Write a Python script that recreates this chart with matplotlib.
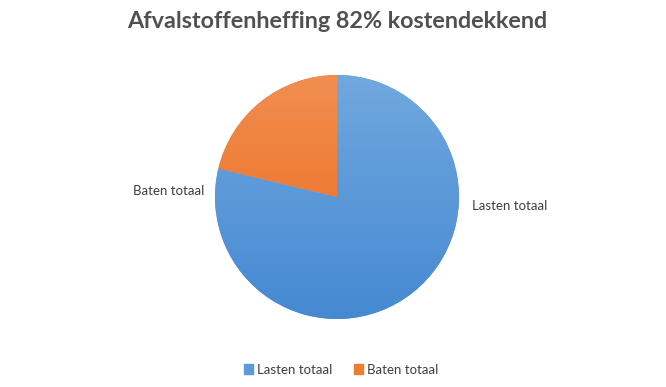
import matplotlib
matplotlib.use('Agg')
import matplotlib.pyplot as plt
import numpy as np
from matplotlib.patches import Rectangle

plt.rcParams['font.family'] = ['Lato', 'DejaVu Sans']

# Data
categories = ['Lasten totaal', 'Baten totaal']
values = [100, 27]
title = 'Afvalstoffenheffing 82% kostendekkend'

# gradient (top colour, bottom colour) per slice
colors_top = ['#71A8DF', '#F28E50']
colors_bottom = ['#4589D2', '#E8681A']
legend_colors = ['#5B9BD5', '#ED7D31']

fig = plt.figure(figsize=(6.66, 3.87), dpi=100)
fig.patch.set_facecolor('white')

ax = fig.add_axes([215 / 666, (387 - 319) / 387, 244 / 666, 244 / 387])
wedges, _ = ax.pie(values, startangle=90, counterclock=False, radius=1,
                   colors=legend_colors, wedgeprops=dict(linewidth=0))

# vertical gradient fill clipped to each wedge
for w, ct, cb in zip(wedges, colors_top, colors_bottom):
    c1 = np.array(matplotlib.colors.to_rgb(ct))
    c2 = np.array(matplotlib.colors.to_rgb(cb))
    t = np.linspace(0, 1, 256)[:, None]
    grad = (c1[None, :] * (1 - t) + c2[None, :] * t)[:, None, :]
    im = ax.imshow(grad, extent=(-1, 1, -1, 1), origin='upper', aspect='auto', zorder=2)
    im.set_clip_path(w)

ax.set_xlim(-1, 1)
ax.set_ylim(-1, 1)
ax.set_aspect('equal')
ax.axis('off')

# slice labels (Excel style, outside end)
ax.text(1.105, -0.07, categories[0], fontsize=9.5, color='#404040',
        ha='left', va='center')
ax.text(-1.09, 0.05, categories[1], fontsize=9.5, color='#404040',
        ha='right', va='center')

fig.text(0.506, 0.945, title, fontsize=16.8, weight='bold', color='#505050',
         ha='center', va='center')

# legend
handles = [Rectangle((0, 0), 1, 1, color=c) for c in legend_colors]
fig.legend(handles, categories, loc='center', bbox_to_anchor=(0.512, 0.045),
           ncol=2, frameon=False, fontsize=9.5, labelcolor='#404040',
           handlelength=0.7, handleheight=0.7, handletextpad=0.3,
           columnspacing=1.6)

fig.savefig('out.png', dpi=100, facecolor='white')
